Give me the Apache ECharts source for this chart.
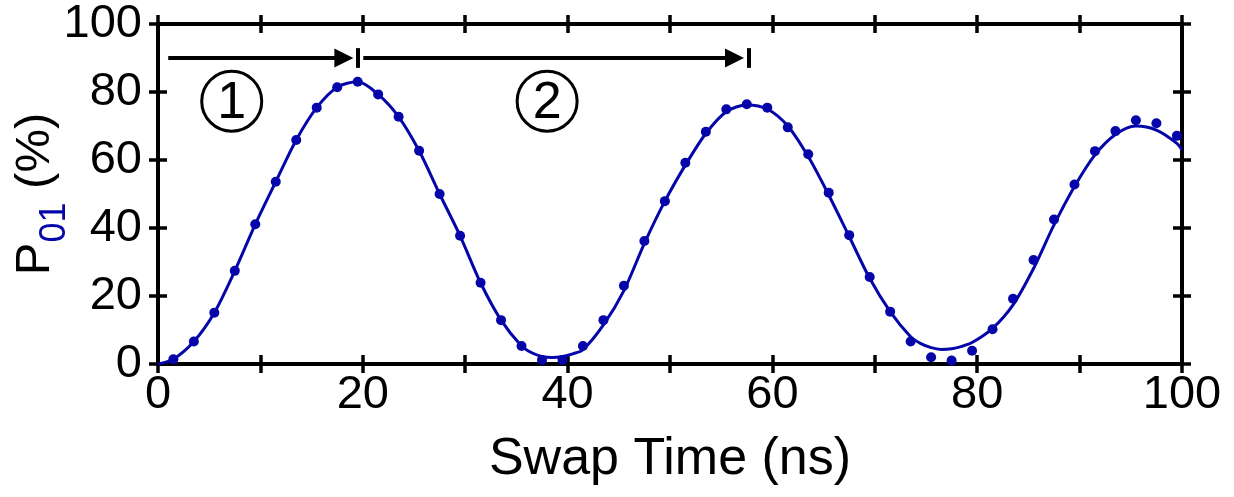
<!DOCTYPE html>
<html><head><meta charset="utf-8">
<script src="https://cdn.jsdelivr.net/npm/echarts@6/dist/echarts.min.js"></script>
<style>html,body{margin:0;padding:0;background:#fff}#c{width:1234px;height:497px}</style>
</head><body><div id="c"></div>
<script>
var xTicks = [0, 20, 40, 60, 80, 100];
var yTicks = [0, 20, 40, 60, 80, 100];
var dataX = [1.5,3.5,5.5,7.5,9.5,11.5,13.5,15.5,17.5,19.5,21.5,23.5,25.5,27.5,29.5,31.5,33.5,35.5,37.5,39.5,41.5,43.5,45.5,47.5,49.5,51.5,53.5,55.5,57.5,59.5,61.5,63.5,65.5,67.5,69.5,71.5,73.5,75.5,77.5,79.5,81.5,83.5,85.5,87.5,89.5,91.5,93.5,95.5,97.5,99.5];
var dataY = [1.4,6.6,15.1,27.4,41.1,53.6,65.9,75.4,81.4,83.0,79.3,72.7,62.7,50.0,37.7,23.9,12.9,5.3,1.2,1.2,5.3,12.9,23.0,36.2,47.9,59.2,68.3,74.9,76.4,75.4,69.6,61.7,50.4,37.9,25.6,15.4,6.6,2.0,1.0,3.9,10.2,19.2,30.6,42.5,52.8,62.6,68.5,71.7,70.8,67.1];
var fitX = [0,1.5,3.5,5.5,7.5,9.5,11.5,13.5,15.5,17.5,19.5,21.5,23.5,25.5,27.5,29.5,31.5,33.5,35.5,36.5,37.5,38.5,39.5,40.5,41.5,43.5,45.5,47.5,49.5,51.5,53.5,55.5,57.5,59.5,61.5,63.5,65.5,67.5,69.5,71.5,73.5,74.5,75.5,76.5,77.5,78.5,79.5,81.5,83.5,85.5,87.5,89.5,91.5,93.5,95.5,97.5,99.5,100];
var fitY = [0,1.4,6.6,15.1,27.4,41.1,53.6,65.9,75.4,81.4,83.0,79.3,72.7,62.7,50.0,37.7,23.9,12.9,5.3,3.3,2.2,1.9,2.2,3.0,4.2,11.5,21.6,35.5,47.9,58.5,67.8,74.2,76.2,75.0,70.0,61.0,49.7,37.5,25.2,15.4,8.0,6.0,4.8,4.3,4.5,5.2,6.3,10.5,17.4,28.1,40.9,52.2,61.5,67.5,70.0,68.8,64.9,62.9];
var stageLabels = ['1', '2'];
var stageX = [7.2, 38.0];
var stageY = [77.3, 77.3];
var arrowY = 90.0;
var arrow1 = [1.0, 18.15, 19.55];
var arrow2 = [20.05, 56.3, 57.65];

var BLUE = '#0505AA';
var FONT = "'Liberation Sans', Arial, sans-serif";

function mkX(pos, inside, show) {
  return {
    type: 'value', min: 0, max: 100, interval: 10, position: pos,
    axisLine: {show: true, onZero: false, lineStyle: {color: '#000', width: 4}},
    axisTick: {show: true, inside: inside, length: 9, lineStyle: {color: '#000', width: 3.5}},
    axisLabel: {show: show, margin: 8, fontFamily: FONT, fontSize: 47, color: '#000',
      formatter: function (v) { return xTicks.indexOf(v) >= 0 ? String(v) : ''; }},
    splitLine: {show: false},
    name: show ? 'Swap Time (ns)' : '', nameLocation: 'middle', nameGap: 70, nameMoveOverlap: false,
    nameTextStyle: {fontFamily: FONT, fontSize: 52, color: '#000'}
  };
}
function mkY(pos, inside, show) {
  return {
    type: 'value', min: 0, max: 100, interval: 20, position: pos,
    axisLine: {show: true, onZero: false, lineStyle: {color: '#000', width: 4}},
    axisTick: {show: true, inside: inside, length: 9, lineStyle: {color: '#000', width: 3.5}},
    axisLabel: {show: show, margin: 16, fontFamily: FONT, fontSize: 47, color: '#000',
      formatter: function (v) { return yTicks.indexOf(v) >= 0 ? String(v) : ''; }},
    splitLine: {show: false},
    name: show ? '{p|P}{s|01}{p| (%)}' : '', nameLocation: 'middle', nameGap: 98, nameRotate: 90,
    nameMoveOverlap: false,
    nameTextStyle: {fontFamily: FONT, fontSize: 49, color: '#000',
      rich: {p: {fontFamily: FONT, fontSize: 49, color: '#000'},
             s: {fontFamily: FONT, fontSize: 36, color: BLUE, verticalAlign: 'bottom', padding: [0, 0, -13, 0]}}}
  };
}

var chart = echarts.init(document.getElementById('c'), null, {renderer: 'canvas'});
function seg(a) {
  return [
    [{coord: [a[0], arrowY], symbol: 'none'}, {coord: [a[1], arrowY], symbol: 'triangle', symbolSize: [19, 19]}],
    [{coord: [a[2], 87.1], symbol: 'none'}, {coord: [a[2], 92.9], symbol: 'none'}]
  ];
}
var ml = seg(arrow1).concat(seg(arrow2));
var stagePts = stageX.map(function (x, i) { return [x, stageY[i], stageLabels[i]]; });

chart.setOption({
  animation: false,
  grid: {left: 158, right: 52, top: 24, bottom: 133, containLabel: false, outerBoundsMode: 'none'},
  xAxis: [mkX('bottom', false, true), mkX('bottom', true, false), mkX('top', false, false), mkX('top', true, false)],
  yAxis: [mkY('left', false, true), mkY('left', true, false), mkY('right', false, false), mkY('right', true, false)],
  series: [
    {type: 'line', data: fitX.map(function (x, i) { return [x, fitY[i]]; }), smooth: 0.3, showSymbol: false,
     lineStyle: {color: BLUE, width: 3}, z: 2,
     markLine: {silent: true, animation: false, symbol: 'none',
       lineStyle: {color: '#000', width: 4, type: 'solid', opacity: 1}, label: {show: false}, data: ml}},
    {type: 'scatter', data: dataX.map(function (x, i) { return [x, dataY[i]]; }), symbolSize: 10,
     itemStyle: {color: BLUE, opacity: 1}, z: 3},
    {type: 'scatter', data: stagePts, symbol: 'circle', symbolSize: 60,
     itemStyle: {color: 'rgba(255,255,255,0)', borderColor: '#000', borderWidth: 3, opacity: 1}, z: 4,
     label: {show: true, position: 'inside', formatter: function (p) { return p.value[2]; },
       fontFamily: FONT, fontSize: 52, color: '#000', offset: [0, 2]}}
  ]
});
</script></body></html>
